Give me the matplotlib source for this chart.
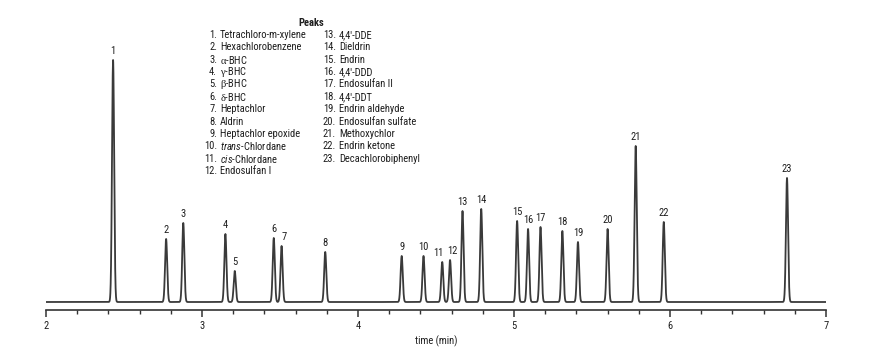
import numpy as np
import matplotlib
matplotlib.use("Agg")
import matplotlib.pyplot as plt
from matplotlib import font_manager

# Retention times (min) and peak heights (arbitrary units)
peak_ids = list(range(1, 24))
rt = [2.43, 2.77, 2.88, 3.15, 3.21, 3.46, 3.51, 3.79, 4.28, 4.42, 4.54, 4.59,
      4.67, 4.79, 5.02, 5.09, 5.17, 5.31, 5.41, 5.60, 5.78, 5.96, 6.75]
height = [242, 63, 79, 68, 31, 64, 56, 50, 46, 46, 40, 42,
          91, 93, 81, 73, 75, 71, 60, 73, 156, 80, 124]
compounds = [
    "Tetrachloro-m-xylene", "Hexachlorobenzene", r"$\mathrm{\alpha}$-BHC",
    r"$\mathrm{\gamma}$-BHC", r"$\mathrm{\beta}$-BHC", r"$\mathrm{\delta}$-BHC",
    "Heptachlor", "Aldrin", "Heptachlor epoxide", r"$\mathit{trans}$-Chlordane",
    r"$\mathit{cis}$-Chlordane", "Endosulfan I", "4,4'-DDE", "Dieldrin", "Endrin",
    "4,4'-DDD", "Endosulfan II", "4,4'-DDT", "Endrin aldehyde",
    "Endosulfan sulfate", "Methoxychlor", "Endrin ketone", "Decachlorobiphenyl",
]

# pick a condensed sans if one is around, otherwise plain Liberation Sans
installed = {f.name for f in font_manager.fontManager.ttflist}
font, fs = "Liberation Sans", 6.8
for cand in ["Liberation Sans Narrow", "Roboto Condensed", "PT Sans Narrow", "Archivo Narrow"]:
    if cand in installed:
        font, fs = cand, 7.6
        break
plt.rcParams["font.family"] = [font, "DejaVu Sans"]
plt.rcParams["mathtext.fontset"] = "custom"
plt.rcParams["mathtext.rm"] = "Liberation Serif"
plt.rcParams["mathtext.it"] = font + ":italic"
txt_color = "#1e1e1e"

W, H = 872, 360
fig = plt.figure(figsize=(W / 100, H / 100), dpi=100)
ax = fig.add_axes([46 / W, 1 - 310 / H, 780 / W, 300 / H])

t = np.linspace(2, 7, 20000)
sigma = 0.0068
signal = np.zeros_like(t)
for r, h in zip(rt, height):
    signal += h * np.exp(-0.5 * ((t - r) / sigma) ** 2)
ax.plot(t, signal, color="#3a3a3a", lw=1.3)

# small sideways nudges so crowded labels don't touch
nudge = {7: 2, 11: -2.5, 12: 1.5}
for i, r, h in zip(peak_ids, rt, height):
    ax.annotate(str(i), (r, h), xytext=(nudge.get(i, 0), 3), textcoords="offset points",
                ha="center", va="bottom", fontsize=fs, color=txt_color)

ax.set_xlim(2, 7)
ax.set_ylim(-8, 292)
for s in ["left", "right", "top"]:
    ax.spines[s].set_visible(False)
ax.spines["bottom"].set_color("#333333")
ax.spines["bottom"].set_linewidth(1.2)
ax.set_yticks([])
ax.set_xticks([2, 3, 4, 5, 6, 7])
ax.set_xticks(np.arange(2, 7.01, 0.2), minor=True)
ax.tick_params(axis="x", which="major", length=5, width=1.1, color="#333333",
               labelsize=fs, labelcolor=txt_color, pad=3)
ax.tick_params(axis="x", which="minor", length=3, width=1.0, color="#333333")
ax.set_xlabel("time (min)", fontsize=fs, labelpad=3, color=txt_color)

# peak legend
fig.text(311 / W, 1 - 23 / H, "Peaks", ha="center", va="center",
         fontsize=fs, fontweight="bold", color=txt_color)
row0, dy = 35, 12.36
for k, name in enumerate(compounds):
    if k < 12:
        y, xn, xs = row0 + k * dy, 217, 220
    else:
        y, xn, xs = row0 + (k - 12) * dy, 336, 339
    fig.text(xn / W, 1 - y / H, f"{k + 1}.", ha="right", va="center",
             fontsize=fs, color=txt_color)
    fig.text(xs / W, 1 - y / H, name, ha="left", va="center",
             fontsize=fs, color=txt_color)

fig.savefig("out.png", dpi=100)
